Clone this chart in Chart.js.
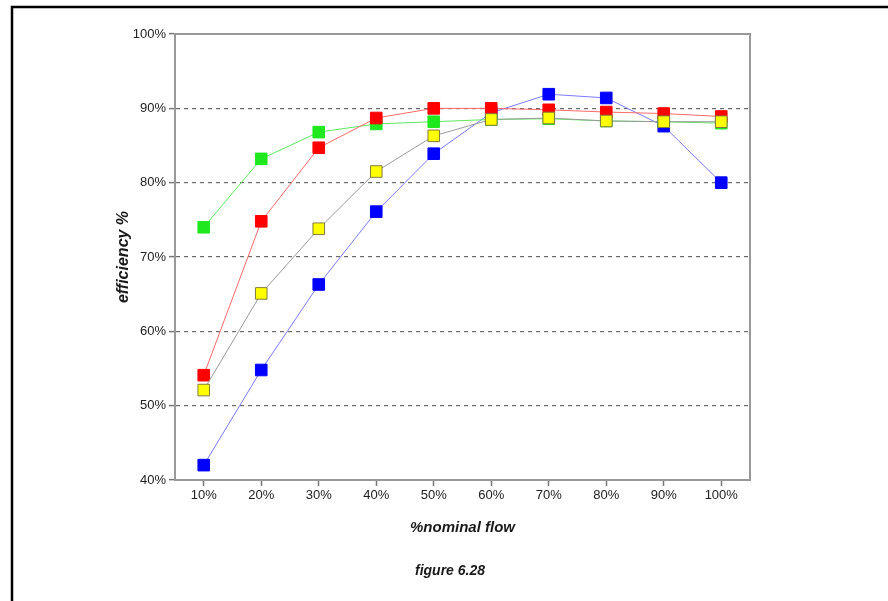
<!DOCTYPE html>
<html>
<head>
<meta charset="utf-8">
<script src="https://cdn.jsdelivr.net/npm/chart.js@4.4.1/dist/chart.umd.min.js"></script>
<style>
  html, body { margin: 0; padding: 0; background: #fff; }
  #wrap { width: 888px; height: 601px; position: relative; }
</style>
</head>
<body>
<div id="wrap"><canvas id="c" width="888" height="601"></canvas></div>
<script>
const categories = ['10%', '20%', '30%', '40%', '50%', '60%', '70%', '80%', '90%', '100%'];
const greenSeries  = [74.0, 83.2, 86.8, 87.9, 88.2, 88.5, 88.6, 88.3, 88.2, 88.0];
const redSeries    = [54.1, 74.8, 84.7, 88.7, 90.0, 90.0, 89.8, 89.5, 89.3, 88.9];
const yellowSeries = [52.1, 65.1, 73.8, 81.5, 86.3, 88.5, 88.7, 88.3, 88.2, 88.2];
const blueSeries   = [42.0, 54.8, 66.3, 76.1, 83.9, 89.4, 91.9, 91.4, 87.6, 80.0];
const yTicks = [40, 50, 60, 70, 80, 90, 100];
const xTitle = '%nominal flow';
const yTitle = 'efficiency %';
const caption = 'figure 6.28';

const FONT = "'Liberation Sans', Arial, Helvetica, sans-serif";

const framePlugin = {
  id: 'frame',
  beforeDraw(chart) {
    const ctx = chart.ctx;
    ctx.save();
    ctx.fillStyle = '#fff';
    ctx.fillRect(0, 0, chart.width, chart.height);
    ctx.restore();
  },
  afterDraw(chart) {
    const ctx = chart.ctx;
    const a = chart.chartArea;
    ctx.save();
    // outer black frame (top and left)
    ctx.strokeStyle = '#000';
    ctx.lineWidth = 2.5;
    ctx.beginPath();
    ctx.moveTo(12, chart.height + 2);
    ctx.lineTo(12, 7);
    ctx.lineTo(chart.width + 2, 7);
    ctx.stroke();
    // plot box top and right
    ctx.strokeStyle = '#999';
    ctx.lineWidth = 2;
    ctx.beginPath();
    ctx.moveTo(a.left, a.top);
    ctx.lineTo(a.right, a.top);
    ctx.lineTo(a.right, a.bottom);
    ctx.stroke();
    // caption
    ctx.fillStyle = '#1a1a1a';
    ctx.font = 'italic bold 14px ' + FONT;
    ctx.textAlign = 'center';
    ctx.textBaseline = 'middle';
    ctx.fillText(caption, 450, 571);
    ctx.restore();
  }
};

const common = { borderWidth: 1, pointStyle: 'rect', pointRadius: 8.2, pointHoverRadius: 8.2, pointBorderWidth: 1, tension: 0, fill: false };

new Chart(document.getElementById('c'), {
  type: 'line',
  data: {
    labels: categories,
    datasets: [
      Object.assign({ label: 'yellow', data: yellowSeries, borderColor: '#9a9a9a', pointBackgroundColor: '#ffff00', pointBorderColor: '#807a40' }, common),
      Object.assign({ label: 'red', data: redSeries, borderColor: '#ff6a6a', pointBackgroundColor: '#ff0000', pointBorderColor: '#ff0000' }, common),
      Object.assign({ label: 'green', data: greenSeries, borderColor: '#5fe85f', pointBackgroundColor: '#1fe81f', pointBorderColor: '#1fe81f' }, common),
      Object.assign({ label: 'blue', data: blueSeries, borderColor: '#7b7bff', pointBackgroundColor: '#0000ff', pointBorderColor: '#0000ff' }, common)
    ]
  },
  options: {
    responsive: false,
    animation: false,
    events: [],
    layout: { padding: { left: 0, top: 34, right: 138, bottom: 0 } },
    plugins: { legend: { display: false }, tooltip: { enabled: false } },
    scales: {
      x: {
        type: 'category',
        offset: true,
        grid: { offset: false, drawOnChartArea: false, tickLength: 6, tickColor: '#777', tickWidth: 1.5 },
        border: { display: true, color: '#999', width: 2 },
        ticks: { color: '#222', font: { family: FONT, size: 13 }, padding: 2, maxRotation: 0, autoSkip: false },
        title: { display: true, text: xTitle, color: '#1a1a1a', font: { family: FONT, size: 15, style: 'italic', weight: 'bold' }, padding: { top: 0, bottom: 64 } },
        afterFit(s) { s.height = 121; }
      },
      y: {
        min: 40, max: 100,
        afterBuildTicks(s) { s.ticks = yTicks.map(v => ({ value: v })); },
        grid: {
          color(ctx) { const v = ctx.tick && ctx.tick.value; return (v === 40 || v === 100) ? 'rgba(0,0,0,0)' : '#6a6a6a'; },
          lineWidth: 1.2,
          tickLength: 6, tickColor: '#777', tickWidth: 1.5
        },
        border: { display: true, color: '#999', width: 2, dash: [4, 4] },
        ticks: { color: '#222', font: { family: FONT, size: 13 }, padding: 3, callback: v => v + '%' },
        title: { display: true, text: yTitle, color: '#1a1a1a', font: { family: FONT, size: 16, style: 'italic', weight: 'bold' }, padding: { top: 114, bottom: 0 } },
        afterFit(s) { s.width = 175; }
      }
    }
  },
  plugins: [framePlugin]
});
</script>
</body>
</html>
